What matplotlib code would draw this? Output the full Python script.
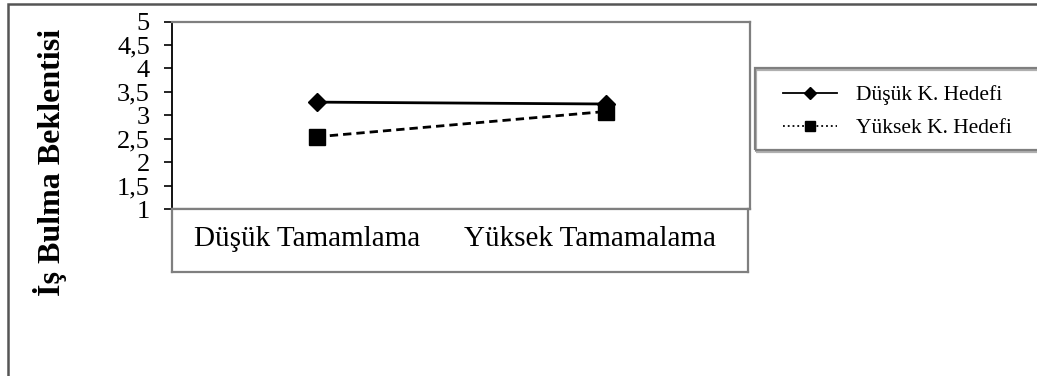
import matplotlib
matplotlib.use("Agg")
import matplotlib.pyplot as plt
from matplotlib.patches import Rectangle
from matplotlib.lines import Line2D

plt.rcParams['font.family'] = ['Liberation Serif', 'DejaVu Serif']

categories = ["Düşük Tamamlama", "Yüksek Tamamalama"]
series_names = ["Düşük K. Hedefi", "Yüksek K. Hedefi"]
dusuk_hedef = [3.28, 3.24]
yuksek_hedef = [2.54, 3.08]
y_ticks = [1, 1.5, 2, 2.5, 3, 3.5, 4, 4.5, 5]
y_tick_labels = ["1", "1,5", "2", "2,5", "3", "3,5", "4", "4,5", "5"]
y_label = "İş Bulma Beklentisi"

W, H = 1037, 376
fig = plt.figure(figsize=(W / 100, H / 100), dpi=100)


def px(x0, y0, x1, y1):
    # pixel box (top-left origin) -> figure fraction rect
    return [x0 / W, 1 - y1 / H, (x1 - x0) / W, (y1 - y0) / H]


def box(x0, y0, x1, y1, lw=1.5, color="#7f7f7f", shadow=True):
    if shadow:
        fig.add_artist(Rectangle((x0 / W + 1.5 / W, 1 - y1 / H - 1.5 / H),
                                 (x1 - x0) / W, (y1 - y0) / H, transform=fig.transFigure,
                                 fill=False, edgecolor="#b0b0b0", lw=lw, clip_on=False))
    fig.add_artist(Rectangle((x0 / W, 1 - y1 / H), (x1 - x0) / W, (y1 - y0) / H,
                             transform=fig.transFigure, fill=False, edgecolor=color,
                             lw=lw, clip_on=False))


# outer frame (cut off at right and bottom)
box(8, 4, 1060, 400, lw=1.8, color="#555555", shadow=False)

x = list(range(len(categories)))

ax = fig.add_axes(px(172, 21.5, 750, 209))
ax.plot(x, dusuk_hedef, color="black", lw=2, marker="D", ms=9, zorder=3)
ax.plot(x, yuksek_hedef, color="black", lw=2, ls="--", dashes=(3, 1.8),
        marker="s", ms=11, zorder=2)
ax.set_xlim(-0.5, 1.5)
ax.set_ylim(1, 5)
ax.set_xticks([])
ax.set_yticks(y_ticks)
ax.set_yticklabels(y_tick_labels, fontsize=19)
ax.tick_params(axis="y", direction="out", length=6, width=1.2, pad=10, color="black")
for side in ["top", "right", "bottom"]:
    ax.spines[side].set_color("#7f7f7f")
    ax.spines[side].set_linewidth(1.6)
ax.spines["left"].set_color("black")
ax.spines["left"].set_linewidth(1.3)

# category box below the plot
cat_ax = fig.add_axes(px(172, 209, 748, 272))
cat_ax.set_xlim(-0.5, 1.5)
cat_ax.set_ylim(0, 1)
cat_ax.set_xticks([])
cat_ax.set_yticks([])
for side in cat_ax.spines:
    cat_ax.spines[side].set_color("#7f7f7f")
    cat_ax.spines[side].set_linewidth(1.6)
for i, cat in enumerate(categories):
    cat_ax.text(i - 0.03 - 0.02 * i, 0.52, cat, ha="center", va="center", fontsize=21)

fig.text(50 / W, 1 - 162 / H, y_label, rotation=90, ha="center", va="center",
         fontsize=23, fontweight="bold")

# legend box
box(755, 68, 1060, 150, lw=1.6)
handles = [
    Line2D([], [], color="black", lw=1.3, marker="D", ms=6),
    Line2D([], [], color="black", lw=1.3, ls=":", marker="s", ms=7),
]
fig.legend(handles, series_names, loc="upper left", bbox_to_anchor=(783 / W, 1 - 85 / H),
           frameon=False, fontsize=15.5, handlelength=2.5, handletextpad=0.9,
           labelspacing=0.62, borderpad=0, borderaxespad=0)

fig.savefig("out.png", dpi=100)
